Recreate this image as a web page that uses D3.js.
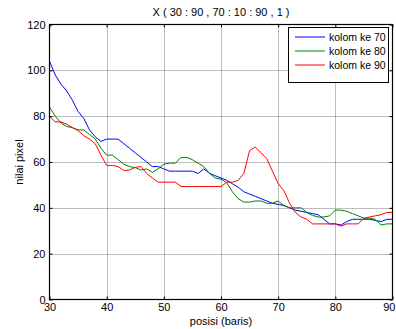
<!DOCTYPE html>
<html>
<head>
<meta charset="utf-8">
<script src="https://cdn.jsdelivr.net/npm/d3@7"></script>
<style>
  html, body { margin: 0; padding: 0; background: #fff; }
  svg { display: block; font-family: "Liberation Sans", Arial, sans-serif; }
</style>
</head>
<body>
<svg id="chart" width="396" height="329"></svg>
<script>
// Row positions along the image (x axis)
const positions = d3.range(30, 91);

// Pixel intensity profiles for columns 70, 80 and 90
const kolom70 = [104, 98, 94, 91, 87, 82, 79, 74, 71, 69,
                 70, 70, 70, 68, 66, 64, 62, 60, 58, 58,
                 57, 56, 56, 56, 56, 56, 55, 57, 55, 54,
                 53, 52, 50.5, 49, 47, 46, 45, 44, 43, 42,
                 41.5, 41, 40, 39, 38.5, 38, 37.5, 37, 35, 33,
                 33, 32.5, 34, 35, 35, 35, 35, 34.5, 34, 35, 35];
const kolom80 = [84, 80, 77, 75.5, 75, 74, 74, 72, 70, 66,
                 63, 63, 61, 59, 58, 57.5, 56.5, 57, 55.5, 57,
                 59, 59.5, 59.5, 62, 62, 61, 59.5, 58, 55, 53,
                 52.5, 51, 47, 44, 42.5, 42.5, 43, 43, 42, 42,
                 43, 41, 40, 40, 40, 38, 36.7, 36, 36, 36.5,
                 39, 39, 38.5, 37.5, 36.5, 35.5, 35.5, 35, 32.5, 33, 33];
const kolom90 = [80, 77.5, 77.5, 76.5, 75, 73.7, 71.5, 70, 68, 63,
                 58.5, 58.5, 58, 56.3, 56.5, 57.7, 58, 55, 53, 51.2,
                 51.2, 51.2, 51.2, 49.3, 49.3, 49.3, 49.3, 49.3, 49.3, 49.3,
                 49.3, 51.2, 51.2, 52, 55, 65, 66.5, 64, 61.5, 56,
                 50.5, 47.5, 42, 38, 36, 35, 33, 33, 33, 33,
                 33, 32, 33, 33, 33, 35.5, 36, 36.5, 37, 38, 38];

const seriesNames = ["kolom ke 70", "kolom ke 80", "kolom ke 90"];
const seriesColors = ["#0000ff", "#008000", "#ff0000"];
const xTicks = [30, 40, 50, 60, 70, 80, 90];
const yTicks = [0, 20, 40, 60, 80, 100, 120];

const chartTitle = "X ( 30 : 90 , 70 : 10 : 90 , 1 )";
const xLabel = "posisi (baris)";
const yLabel = "nilai pixel";

const svg = d3.select("#chart");
const W = 396;
const plotL = 49.5, plotR = 392.5, plotT = 24.5, plotB = 299.5;

const x = d3.scaleLinear().domain([30, 90]).range([plotL, plotR]);
const y = d3.scaleLinear().domain([0, 120]).range([plotB, plotT]);

svg.append("rect").attr("width", W).attr("height", 329).attr("fill", "#fff");

// Grid lines
const grid = svg.append("g").attr("stroke", "#7a7a7a").attr("stroke-width", 1)
  .attr("stroke-dasharray", "1,1");
grid.selectAll(".gx").data(xTicks.slice(1, -1)).join("line")
  .attr("x1", d => Math.round(x(d)) + 0.5).attr("x2", d => Math.round(x(d)) + 0.5)
  .attr("y1", plotT).attr("y2", plotB);
grid.selectAll(".gy").data(yTicks.slice(1, -1)).join("line")
  .attr("y1", d => Math.round(y(d)) + 0.5).attr("y2", d => Math.round(y(d)) + 0.5)
  .attr("x1", plotL).attr("x2", plotR);

// Data lines
const series = [kolom70, kolom80, kolom90];
const line = d3.line().x((d, i) => x(positions[i])).y(d => y(d));
series.forEach((vals, k) => {
  svg.append("path").datum(vals)
    .attr("fill", "none")
    .attr("stroke", seriesColors[k])
    .attr("stroke-width", 1)
    .attr("d", line);
});

// Axes with inward ticks
const fontSize = 11;
const axB = d3.axisBottom(x).tickValues(xTicks).tickSizeInner(-3).tickSizeOuter(0).tickPadding(4);
const axT = d3.axisTop(x).tickValues(xTicks).tickSizeInner(-3).tickSizeOuter(0).tickFormat("");
const axL = d3.axisLeft(y).tickValues(yTicks).tickSizeInner(-3).tickSizeOuter(0).tickPadding(4);
const axR = d3.axisRight(y).tickValues(yTicks).tickSizeInner(-3).tickSizeOuter(0).tickFormat("");

function styleAxis(g) {
  g.select(".domain").remove();
  g.selectAll("line").attr("stroke", "#000");
  g.selectAll("text").attr("font-size", fontSize).attr("fill", "#000")
    .attr("font-family", "Liberation Sans, Arial, sans-serif");
}
const gB = svg.append("g").attr("transform", `translate(0,${plotB})`).call(axB).call(styleAxis);
// keep the last x label inside the drawing's right edge
gB.selectAll(".tick").filter(d => d === xTicks[xTicks.length - 1]).select("text")
  .attr("text-anchor", "end").attr("x", W - 1 - x(xTicks[xTicks.length - 1]));
svg.append("g").attr("transform", `translate(0,${plotT})`).call(axT).call(styleAxis);
svg.append("g").attr("transform", `translate(${plotL},0)`).call(axL).call(styleAxis);
svg.append("g").attr("transform", `translate(${plotR},0)`).call(axR).call(styleAxis);

// Frame
svg.append("rect").attr("x", plotL).attr("y", plotT)
  .attr("width", plotR - plotL).attr("height", plotB - plotT)
  .attr("fill", "none").attr("stroke", "#000").attr("stroke-width", 1.2);

// Title and axis labels
svg.append("text").attr("x", (plotL + plotR) / 2).attr("y", 16)
  .attr("text-anchor", "middle").attr("font-size", fontSize).text(chartTitle);
svg.append("text").attr("x", (plotL + plotR) / 2).attr("y", 325)
  .attr("text-anchor", "middle").attr("font-size", fontSize).text(xLabel);
svg.append("text").attr("transform", `translate(23,${(plotT + plotB) / 2}) rotate(-90)`)
  .attr("text-anchor", "middle").attr("font-size", fontSize).text(yLabel);

// Legend
const lg = svg.append("g");
lg.append("rect").attr("x", 288.5).attr("y", 27.5).attr("width", 100).attr("height", 55)
  .attr("fill", "#fff").attr("stroke", "#000").attr("stroke-width", 1);
seriesNames.forEach((name, k) => {
  const ly = 37 + k * 14;
  lg.append("line").attr("x1", 295).attr("x2", 325).attr("y1", ly).attr("y2", ly)
    .attr("stroke", seriesColors[k]).attr("stroke-width", 1);
  lg.append("text").attr("x", 329).attr("y", ly + 4).attr("font-size", fontSize - 0.5)
    .text(name);
});
</script>
</body>
</html>
